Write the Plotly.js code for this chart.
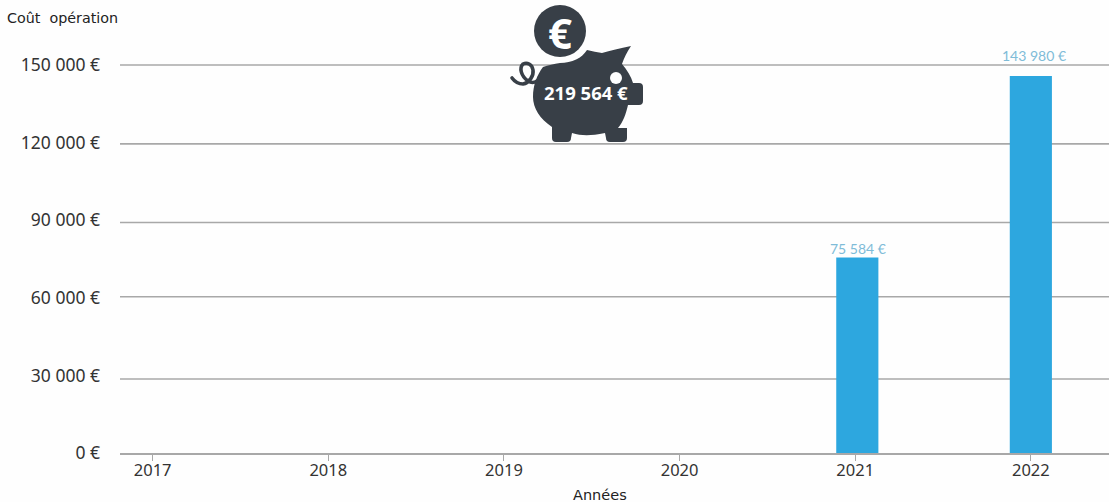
<!DOCTYPE html>
<html><head><meta charset="utf-8">
<script src="https://cdn.plot.ly/plotly-3.0.1.min.js"></script>
<style>html,body{margin:0;padding:0;background:#fefefe}</style></head>
<body><div id="chart" style="width:1109px;height:502px"></div>
<script>
const years = ['2017','2018','2019','2020','2021','2022'];
const barHeights = [null,null,null,null,75584,145700];
const barOffsets = [-0.12,-0.12,-0.12,-0.12,-0.108,-0.12];
const labelYears = ['2021','2022'];
const labelTexts = ['75 584 €','143 980 €'];
const labelHeights = [79200,153500];
const tickValues = [0,30000,60000,90000,120000,150000];
const tickLabels = ['0 €','30 000 €','60 000 €','90 000 €','120 000 €','150 000 €'];
const gridHeights = [28600,60400,89100,119500,150000];
const totalLabel = '219 564 €';

const pig = `<svg xmlns="http://www.w3.org/2000/svg" width="170" height="150" viewBox="0 0 170 150">
<g fill="#383f47">
<circle cx="70" cy="31" r="26"/>
<path d="M97 50 Q105 52 112 53 C120 51 130 48 141 46 C137 52 134 58 132 64 C137 70 141 76 143 83 L149 83 Q153 83 153 87 L153 101 Q153 105 149 105 L138 105 C136 114 133 122 128 128 L137 128 L137 138 Q137 142 133 142 L120 142 Q116 142 116 138 L115 133 C100 136 92 136 82 133 L81 138 Q81 142 77 142 L66 142 Q62 142 62 138 L62 127 C50 119 43 108 43 97 C43 85 47 75 53 67 C58 65 64 64 70 63 C82 63 92 58 97 50 Z"/>
<path d="M22 78 C25 82 28 84 33 84 C39 83 44 76 43 70 C42 64 37 62 33 64 C29 68 31 76 38 81 C41 83 44 83 47 81" fill="none" stroke="#383f47" stroke-width="3.6" stroke-linecap="round"/>
</g>
<circle cx="126" cy="78" r="6" fill="#fefefe"/>
</svg>`;

const data = [{
  type:'bar', x:years, y:barHeights, width:0.24, offset:barOffsets,
  marker:{color:'#2da7df'}, hoverinfo:'skip'
}];
const labelAnnotations = labelYears.map((yr,i)=>({
  xref:'x',yref:'y',x:years.indexOf(yr),y:labelHeights[i],xshift:3,yanchor:'middle',xanchor:'center',
  text:labelTexts[i],showarrow:false,
  font:{family:'Lato, sans-serif',size:14,color:'#7fbcd8'}
}));
const gridShapes = gridHeights.map(v=>({
  type:'line',layer:'below',xref:'paper',yref:'y',x0:0,x1:1,y0:v,y1:v,
  line:{color:'#a8a8a8',width:1.6}
}));
const layout = {
  width:1109,height:502,showlegend:false,
  paper_bgcolor:'#fefefe',plot_bgcolor:'#fefefe',
  margin:{l:120,r:0,t:30,b:49},
  font:{family:'"Noto Sans", sans-serif',color:'#333'},
  xaxis:{type:'category',categoryorder:'array',categoryarray:years,range:[-0.186,5.445],
    showgrid:false,showline:true,linecolor:'#a8a8a8',linewidth:2,
    ticks:'outside',ticklen:6,tickcolor:'#a8a8a8',tickwidth:1,ticklabelstandoff:-5,
    tickfont:{size:16.5,color:'#333'}},
  yaxis:{range:[0,163500],tickmode:'array',tickvals:tickValues,ticktext:tickLabels,
    showgrid:false,zeroline:false,showline:false,
    ticks:'',ticklabelstandoff:19,tickfont:{size:17.5,color:'#333'}},
  shapes:gridShapes,
  annotations:labelAnnotations.concat([
    {xref:'paper',yref:'paper',x:(7-120)/989,xanchor:'left',xshift:-2,y:(453-18)/423,yanchor:'middle',text:'Coût  opération',showarrow:false,
      font:{family:'"DejaVu Sans", sans-serif',size:14.3,color:'#222'}},
    {xref:'paper',yref:'paper',x:(600-120)/989,xanchor:'center',y:(453-495)/423,yanchor:'middle',text:'Années',showarrow:false,
      font:{family:'"DejaVu Sans", sans-serif',size:14.5,color:'#222'}},
    {xref:'paper',yref:'paper',x:(586-120)/989,xanchor:'center',y:(453-92)/423,yanchor:'middle',text:'<b>'+totalLabel+'</b>',showarrow:false,
      font:{family:'"Noto Sans", sans-serif',size:18.5,color:'#ffffff'}},
    {xref:'paper',yref:'paper',x:(560-120)/989,xanchor:'center',y:(453-32)/423,yanchor:'middle',text:'<b>€</b>',showarrow:false,
      font:{family:'"Noto Sans", sans-serif',size:42,color:'#ffffff'}}
  ]),
  images:[{source:'data:image/svg+xml;charset=utf-8,'+encodeURIComponent(pig),layer:'above',
    xref:'paper',yref:'paper',x:(490-120)/989,y:(453-0)/423,sizex:170/989,sizey:150/423,xanchor:'left',yanchor:'top',sizing:'stretch'}]
};
Plotly.newPlot('chart',data,layout,{displayModeBar:false,staticPlot:true});
</script></body></html>
